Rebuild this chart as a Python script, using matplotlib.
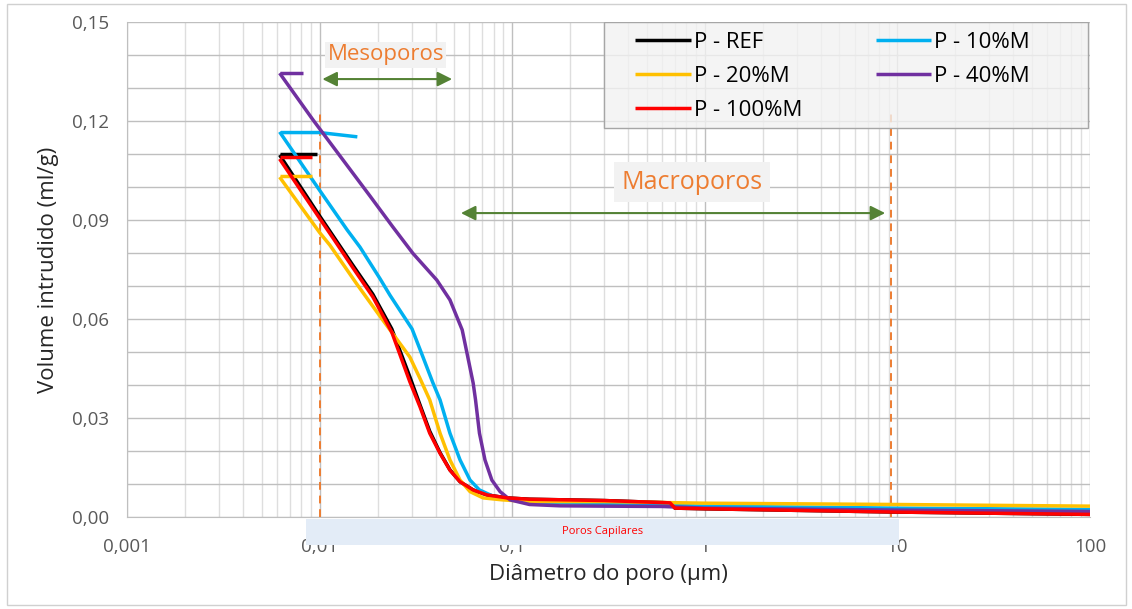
import matplotlib
matplotlib.use('Agg')
import matplotlib.pyplot as plt
from matplotlib.patches import Rectangle
from matplotlib.ticker import FixedLocator, LogLocator, NullFormatter, FuncFormatter

plt.rcParams['font.family'] = ['Open Sans', 'DejaVu Sans']

# curvas de intrusão (diâmetro em µm, volume acumulado em ml/g)
ref_x = [0.0062, 0.0098, 0.0148, 0.0189, 0.0237, 0.0294, 0.0332, 0.0373, 0.0422, 0.0475, 0.0536, 0.0627, 0.074, 0.094, 0.123, 0.3, 0.66, 0.7, 1, 10, 100]
ref_y = [0.1097, 0.0920, 0.0765, 0.0675, 0.0570, 0.0425, 0.0340, 0.0260, 0.0195, 0.0143, 0.0107, 0.0082, 0.0067, 0.0058, 0.0054, 0.0050, 0.0043, 0.0027, 0.0025, 0.0015, 0.0008]
ref_ext_x = [0.0062, 0.0097]
ref_ext_y = [0.1100, 0.1100]

m10_x = [0.0062, 0.01, 0.0139, 0.0162, 0.0206, 0.0232, 0.0302, 0.0344, 0.0386, 0.0422, 0.0475, 0.0536, 0.0604, 0.0676, 0.0832, 0.123, 0.3, 1, 10, 100]
m10_y = [0.1167, 0.0990, 0.0870, 0.0818, 0.0722, 0.0672, 0.0570, 0.0485, 0.0409, 0.0355, 0.0254, 0.0173, 0.0112, 0.0082, 0.0058, 0.0046, 0.0040, 0.0033, 0.0027, 0.0023]
m10_ext_x = [0.0063, 0.0100, 0.0157]
m10_ext_y = [0.1165, 0.1165, 0.1152]

m20_x = [0.0062, 0.01, 0.0113, 0.0156, 0.0198, 0.0232, 0.0294, 0.0332, 0.0373, 0.0422, 0.0475, 0.0536, 0.0604, 0.0706, 0.089, 0.123, 0.3, 1, 10, 100]
m20_y = [0.1030, 0.0862, 0.0824, 0.0706, 0.0622, 0.0567, 0.0485, 0.0420, 0.0355, 0.0254, 0.0173, 0.0112, 0.0077, 0.0058, 0.0052, 0.0047, 0.0047, 0.0042, 0.0038, 0.0033]
m20_ext_x = [0.0062, 0.0091]
m20_ext_y = [0.1033, 0.1033]

m40_x = [0.0062, 0.00925, 0.0183, 0.024, 0.0305, 0.0406, 0.0475, 0.0524, 0.055, 0.0578, 0.0627, 0.0645, 0.0676, 0.0722, 0.0784, 0.0865, 0.0975, 0.123, 0.177, 0.3, 0.6, 1, 10, 100]
m40_y = [0.1345, 0.1203, 0.0972, 0.0879, 0.0799, 0.0718, 0.0658, 0.0597, 0.0567, 0.0506, 0.0406, 0.0355, 0.0254, 0.0173, 0.0112, 0.0077, 0.0052, 0.0038, 0.0034, 0.0033, 0.0032, 0.0027, 0.0021, 0.0017]
m40_ext_x = [0.0062, 0.0082]
m40_ext_y = [0.1345, 0.1345]

m100_x = [0.0062, 0.01, 0.01175, 0.0149, 0.0189, 0.0237, 0.0294, 0.0332, 0.0373, 0.0422, 0.0475, 0.0536, 0.0627, 0.074, 0.094, 0.123, 0.3, 0.66, 0.7, 1, 10, 100]
m100_y = [0.1085, 0.0905, 0.0845, 0.0755, 0.0667, 0.0560, 0.0410, 0.0334, 0.0254, 0.0193, 0.0142, 0.0107, 0.0082, 0.0067, 0.0058, 0.0054, 0.0050, 0.0043, 0.0027, 0.0025, 0.0015, 0.0008]
m100_ext_x = [0.0062, 0.0091]
m100_ext_y = [0.1090, 0.1090]

series = [
    ('P - REF', ref_x, ref_y, ref_ext_x, ref_ext_y, '#000000'),
    ('P - 10%M', m10_x, m10_y, m10_ext_x, m10_ext_y, '#00B0F0'),
    ('P - 20%M', m20_x, m20_y, m20_ext_x, m20_ext_y, '#FFC000'),
    ('P - 40%M', m40_x, m40_y, m40_ext_x, m40_ext_y, '#7030A0'),
    ('P - 100%M', m100_x, m100_y, m100_ext_x, m100_ext_y, '#FF0000'),
]

y_ticks = [0.00, 0.03, 0.06, 0.09, 0.12, 0.15]
x_ticks = [0.001, 0.01, 0.1, 1, 10, 100]
x_labels = ['0,001', '0,01', '0,1', '1', '10', '100']

orange = '#ED7D31'
green = '#548235'

fig = plt.figure(figsize=(11.32, 6.09), dpi=100)
ax = fig.add_axes([0.1122, 0.151, 0.8507, 0.8129])

handles = {}
for name, xs, ys, ex, ey, c in series:
    h, = ax.plot(xs, ys, color=c, lw=2.5, solid_capstyle='butt', solid_joinstyle='round', zorder=3, label=name)
    ax.plot(ex, ey, color=c, lw=2.5, solid_capstyle='butt', zorder=3)
    handles[name] = h

ax.set_xscale('log')
ax.set_xlim(0.001, 100)
ax.set_ylim(0, 0.15)

ax.xaxis.set_major_locator(FixedLocator(x_ticks))
ax.set_xticklabels(x_labels)
ax.xaxis.set_minor_locator(LogLocator(base=10, subs=range(2, 10)))
ax.xaxis.set_minor_formatter(NullFormatter())
ax.set_yticks(y_ticks)
ax.yaxis.set_major_formatter(FuncFormatter(lambda v, p: f'{v:.2f}'.replace('.', ',')))
ax.yaxis.set_minor_locator(FixedLocator([i / 100 for i in range(16)]))

ax.grid(True, which='major', axis='x', color='#bfbfbf', lw=1.0)
ax.grid(True, which='minor', axis='x', color='#dedede', lw=1.0)
ax.grid(True, which='both', axis='y', color='#bfbfbf', lw=1.0)
ax.set_axisbelow(True)

for s in ['top', 'right']:
    ax.spines[s].set_visible(False)
for s in ['left', 'bottom']:
    ax.spines[s].set_color('#bfbfbf')
ax.tick_params(which='both', length=0, colors='#595959', labelsize=13.5)
ax.tick_params(axis='x', pad=15)
ax.tick_params(axis='y', pad=13)

ax.set_xlabel('Diâmetro do poro (µm)', fontsize=16, color='#262626', labelpad=6)
ax.set_ylabel('Volume intrudido (ml/g)', fontsize=16, color='#262626', labelpad=9)

# faixas de poros
ax.plot([0.01, 0.01], [0, 0.1225], color=orange, lw=1.4, ls=(0, (4, 3)), zorder=2)
ax.plot([9.3, 9.3], [0, 0.1225], color=orange, lw=1.4, ls=(0, (4, 3)), zorder=2)

ax.annotate('', xy=(0.0100, 0.1327), xytext=(0.0504, 0.1327),
            arrowprops=dict(arrowstyle='<|-|>', color=green, lw=1.5, mutation_scale=22), zorder=4)
ax.annotate('', xy=(0.0524, 0.0921), xytext=(8.93, 0.0921),
            arrowprops=dict(arrowstyle='<|-|>', color=green, lw=1.5, mutation_scale=22), zorder=4)

ax.text(0.0221, 0.1400, 'Mesoporos', color=orange, fontsize=16, ha='center', va='center', zorder=4,
        bbox=dict(boxstyle='square,pad=0.1', fc='#f2f2f2', ec='none'))
ax.text(0.858, 0.1015, 'Macroporos', color=orange, fontsize=18, ha='center', va='center', zorder=4,
        bbox=dict(boxstyle='square,pad=0.3', fc='#f2f2f2', ec='none'))

ax.add_patch(Rectangle((0.0085, -0.0085), 10.2 - 0.0085, 0.0079, facecolor='#e3ecf7', edgecolor='none',
                       clip_on=False, zorder=1))
ax.text(0.296, -0.0044, 'Poros Capilares', color='#FF0000', fontsize=8, ha='center', va='center',
        clip_on=False, zorder=2)

# legenda: caixa semitransparente e entradas em duas colunas
ax.add_patch(Rectangle((0.495, 0.786), 0.503, 0.214, transform=ax.transAxes, facecolor='#f2f2f2',
                       alpha=0.8, edgecolor='none', zorder=4.5))
ax.add_patch(Rectangle((0.495, 0.786), 0.503, 0.214, transform=ax.transAxes, fill=False,
                       edgecolor='#a6a6a6', lw=1.0, zorder=4.6))
order = ['P - REF', 'P - 20%M', 'P - 100%M', 'P - 10%M', 'P - 40%M']
leg = ax.legend([handles[n] for n in order], order, ncol=2, loc='upper left',
                bbox_to_anchor=(0.5275, 0.980), fontsize=16, frameon=False,
                handlelength=2.5, handletextpad=0.15, borderaxespad=0, borderpad=0,
                labelspacing=0.58, columnspacing=3.3)
leg.set_zorder(5)

fig.patches.append(Rectangle((0.0062, 0.007), 0.9885, 0.987, transform=fig.transFigure,
                             fill=False, edgecolor='#d0d0d0', lw=1.0))

fig.savefig('out.png', dpi=100)
